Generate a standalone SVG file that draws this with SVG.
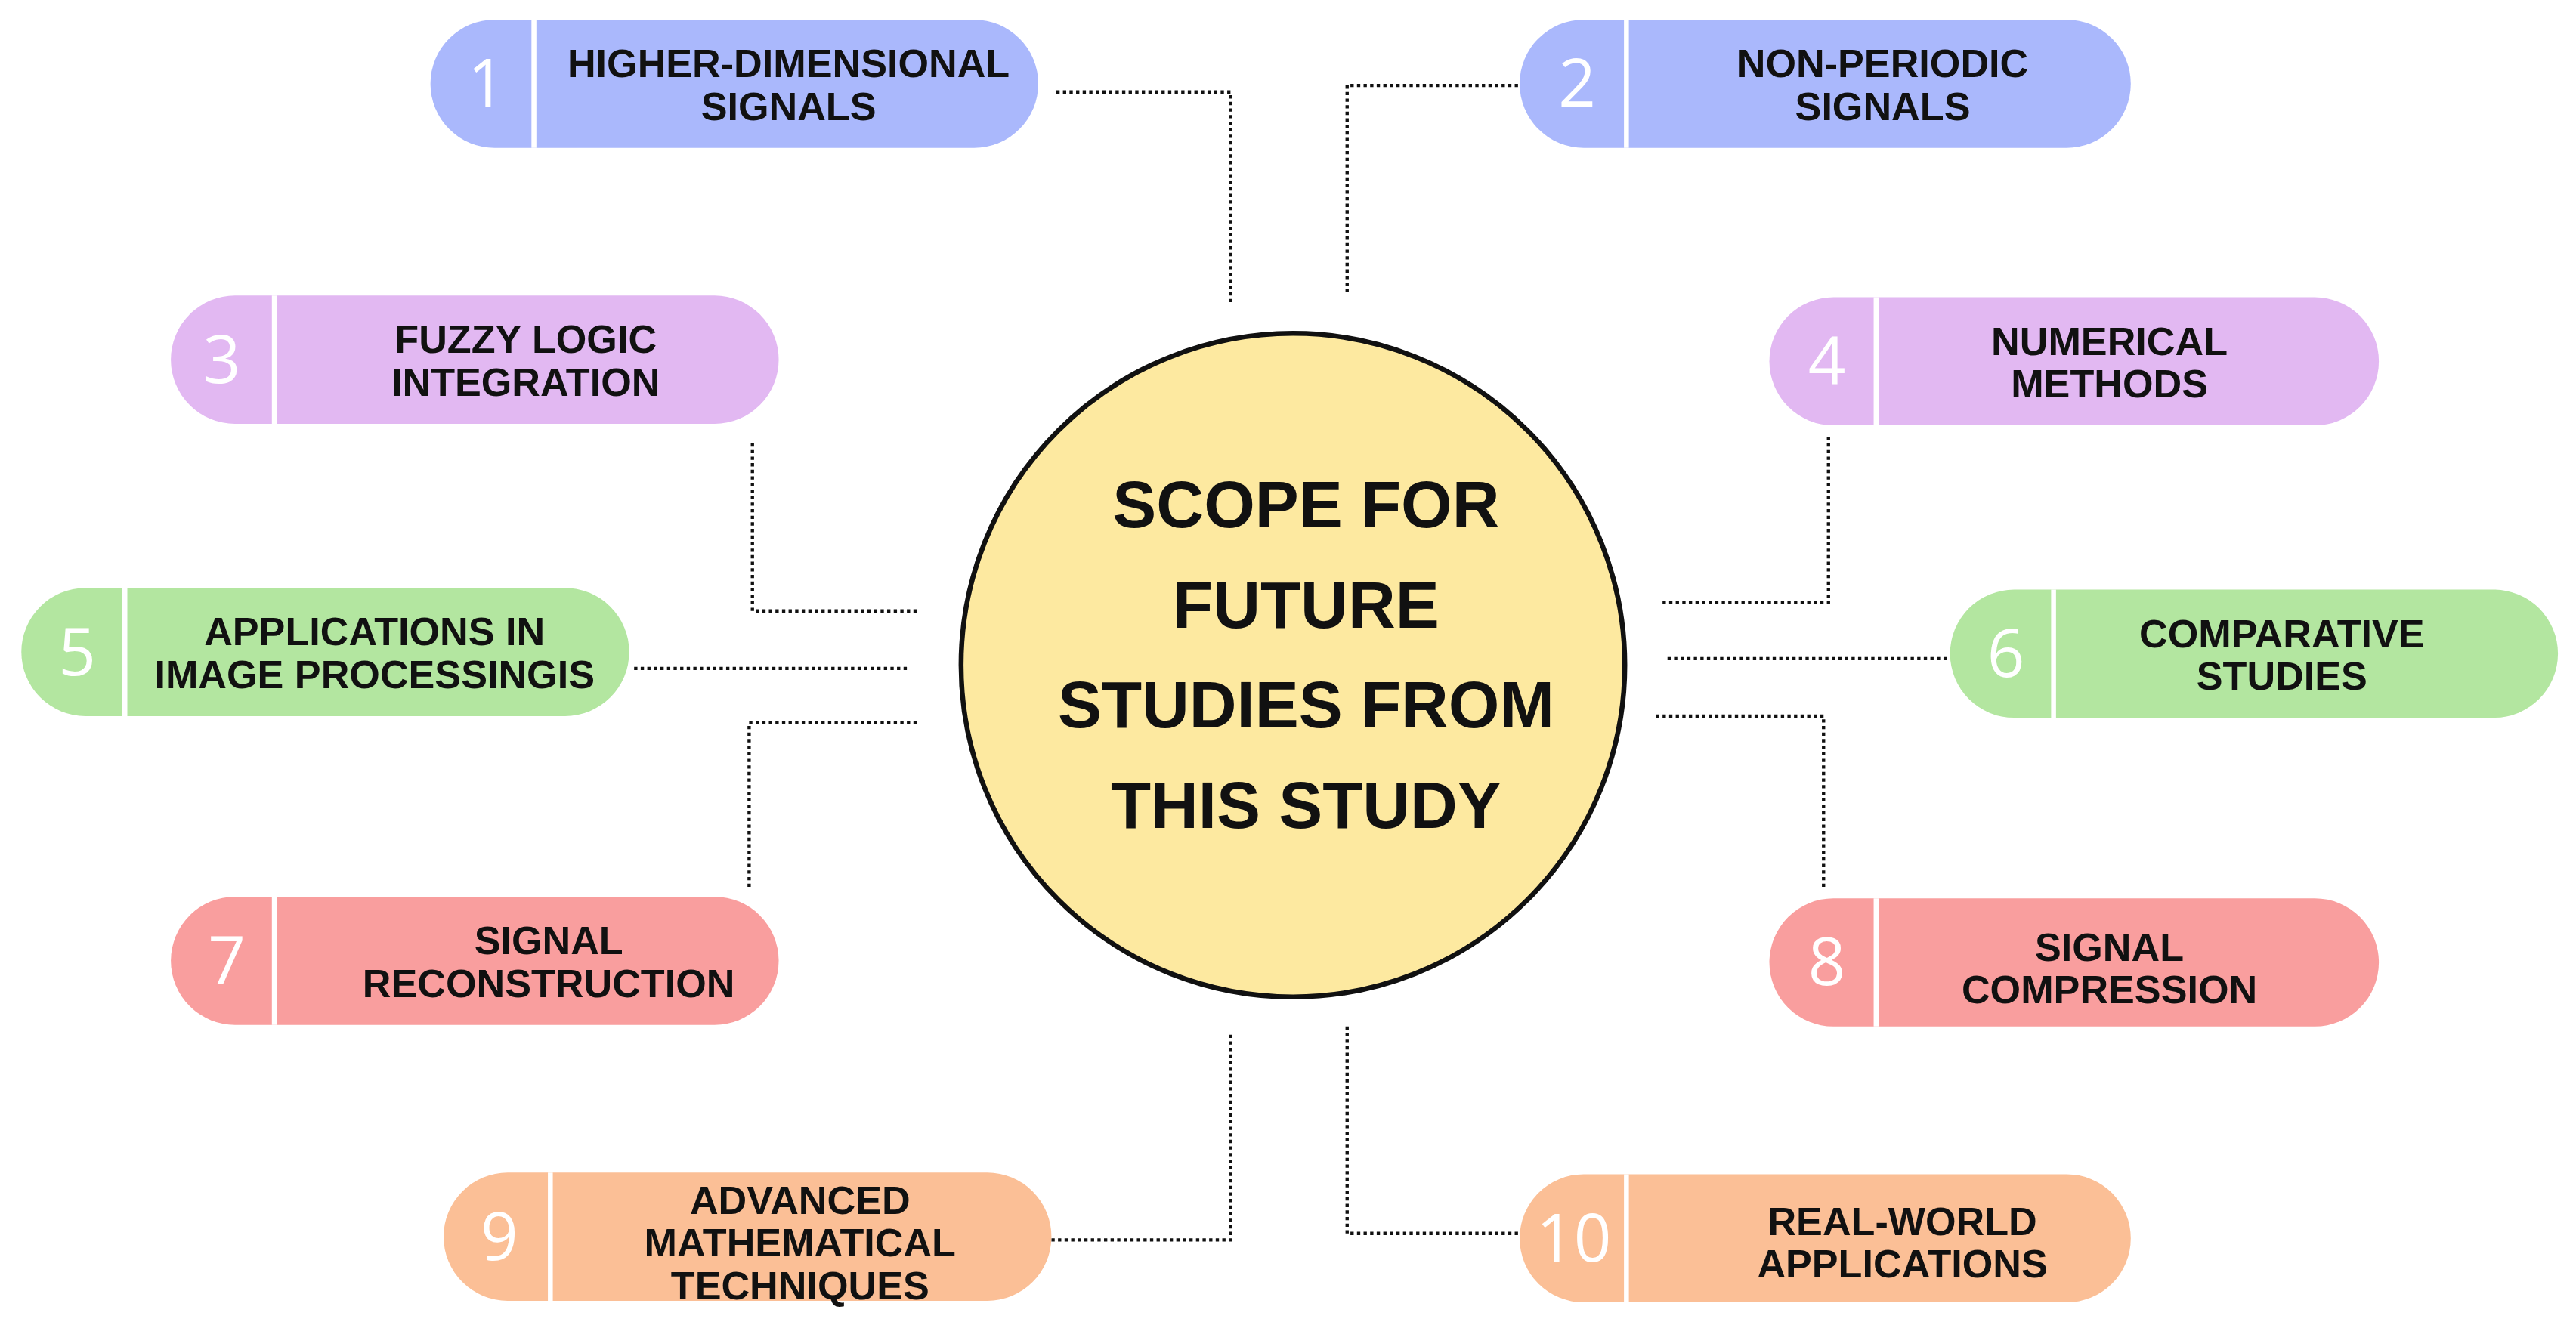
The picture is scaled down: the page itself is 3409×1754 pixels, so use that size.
<svg xmlns="http://www.w3.org/2000/svg" width="3409" height="1754" viewBox="0 0 3409 1754">
<style>
.lbl{font-family:"Liberation Sans",Arial,sans-serif;font-weight:bold;font-size:24px;fill:#111;text-anchor:middle}
.num{font-family:"Open Sans","Liberation Sans",sans-serif;font-size:40px;fill:#fff;text-anchor:middle}
.div{stroke:#fff;stroke-width:3}
.con{fill:none;stroke:#111;stroke-width:2;stroke-dasharray:2 2}
.ctr{font-family:"Liberation Sans",Arial,sans-serif;font-weight:bold;font-size:40px;fill:#111;text-anchor:middle}
</style>
<rect width="3409" height="1754" fill="#fff"/>
<g transform="scale(2.1741)">
<g id="connectors">
<polyline class="con" points="643,56 749,56 749,185"/>
<polyline class="con" points="820,178 820,52 925,52"/>
<polyline class="con" points="458,270 458,372 560,372"/>
<polyline class="con" points="1113,266 1113,367 1012,367"/>
<polyline class="con" points="386,407 553,407"/>
<polyline class="con" points="1015,401 1187,401"/>
<polyline class="con" points="558,440 456,440 456,540"/>
<polyline class="con" points="1008,436 1110,436 1110,540"/>
<polyline class="con" points="640,755 749,755 749,630"/>
<polyline class="con" points="820,625 820,751 925,751"/>
</g>
<g id="center">
<circle cx="787" cy="405" r="202" fill="#fde9a0" stroke="#111" stroke-width="3"/>
<text class="ctr" x="795" y="321">SCOPE FOR</text>
<text class="ctr" x="795" y="382">FUTURE</text>
<text class="ctr" x="795" y="443">STUDIES FROM</text>
<text class="ctr" x="795" y="504">THIS STUDY</text>
</g>
<g id="node1"><rect x="262" y="12" width="370" height="78" rx="39" fill="#aab8fc"/><line class="div" x1="325" y1="12" x2="325" y2="90"/><text class="num" x="296" y="65">1</text><text class="lbl" x="480" y="47">HIGHER-DIMENSIONAL</text><text class="lbl" x="480" y="73">SIGNALS</text></g>
<g id="node2"><rect x="925" y="12" width="372" height="78" rx="39" fill="#aab8fc"/><line class="div" x1="990" y1="12" x2="990" y2="90"/><text class="num" x="960" y="65">2</text><text class="lbl" x="1146" y="47">NON-PERIODIC</text><text class="lbl" x="1146" y="73">SIGNALS</text></g>
<g id="node3"><rect x="104" y="180" width="370" height="78" rx="39" fill="#e2b8f2"/><line class="div" x1="167" y1="180" x2="167" y2="258"/><text class="num" x="135" y="233">3</text><text class="lbl" x="320" y="215">FUZZY LOGIC</text><text class="lbl" x="320" y="241">INTEGRATION</text></g>
<g id="node4"><rect x="1077" y="181" width="371" height="78" rx="39" fill="#e2b8f2"/><line class="div" x1="1142" y1="181" x2="1142" y2="259"/><text class="num" x="1112" y="234">4</text><text class="lbl" x="1284" y="216">NUMERICAL</text><text class="lbl" x="1284" y="242">METHODS</text></g>
<g id="node5"><rect x="13" y="358" width="370" height="78" rx="39" fill="#b3e6a0"/><line class="div" x1="76" y1="358" x2="76" y2="436"/><text class="num" x="47" y="411">5</text><text class="lbl" x="228" y="393">APPLICATIONS IN</text><text class="lbl" x="228" y="419">IMAGE PROCESSINGIS</text></g>
<g id="node6"><rect x="1187" y="359" width="370" height="78" rx="39" fill="#b3e6a0"/><line class="div" x1="1250" y1="359" x2="1250" y2="437"/><text class="num" x="1221" y="412">6</text><text class="lbl" x="1389" y="394">COMPARATIVE</text><text class="lbl" x="1389" y="420">STUDIES</text></g>
<g id="node7"><rect x="104" y="546" width="370" height="78" rx="39" fill="#f99e9e"/><line class="div" x1="167" y1="546" x2="167" y2="624"/><text class="num" x="138" y="599">7</text><text class="lbl" x="334" y="581">SIGNAL</text><text class="lbl" x="334" y="607">RECONSTRUCTION</text></g>
<g id="node8"><rect x="1077" y="547" width="371" height="78" rx="39" fill="#f99e9e"/><line class="div" x1="1142" y1="547" x2="1142" y2="625"/><text class="num" x="1112" y="600">8</text><text class="lbl" x="1284" y="585">SIGNAL</text><text class="lbl" x="1284" y="611">COMPRESSION</text></g>
<g id="node9"><rect x="270" y="714" width="370" height="78" rx="39" fill="#fbbf96"/><line class="div" x1="335" y1="714" x2="335" y2="792"/><text class="num" x="304" y="767">9</text><text class="lbl" x="487" y="739">ADVANCED</text><text class="lbl" x="487" y="765">MATHEMATICAL</text><text class="lbl" x="487" y="791">TECHNIQUES</text></g>
<g id="node10"><rect x="925" y="715" width="372" height="78" rx="39" fill="#fbbf96"/><line class="div" x1="990" y1="715" x2="990" y2="793"/><text class="num" x="958" y="768">10</text><text class="lbl" x="1158" y="752">REAL-WORLD</text><text class="lbl" x="1158" y="778">APPLICATIONS</text></g>
</g>
</svg>
